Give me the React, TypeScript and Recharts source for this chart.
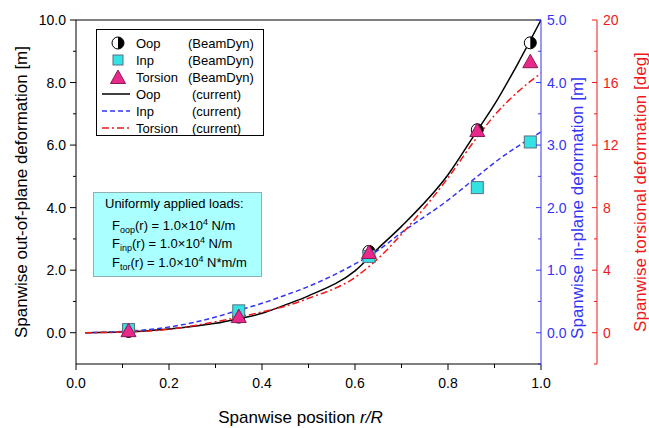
import { ComposedChart, Line, Scatter, XAxis, YAxis, ReferenceLine } from 'recharts'

const FONT = 'Arial, "Liberation Sans", sans-serif'
const BLUE = '#3434f4'
const RED = '#f01818'
const SQ_FILL = '#33e3e3'
const TRI_FILL = '#e8288a'

// BeamDyn reference points
const refR = [0.113, 0.35, 0.63, 0.863, 0.977]
const refOop = [0.04, 0.5, 2.6, 6.49, 9.27]
const refInp = [0.05, 0.35, 1.22, 2.32, 3.05]
const refTor = [0.1, 1.0, 5.1, 12.9, 17.3]

// current model curves
const curR = [0.02, 0.1, 0.2, 0.3, 0.35, 0.4, 0.45, 0.5, 0.6, 0.65, 0.7, 0.8, 0.86, 0.9, 0.95, 1.0]
const curOop = [0, 0.02, 0.12, 0.3, 0.45, 0.62, 0.89, 1.18, 1.98, 2.7, 3.4, 5.05, 6.4, 7.3, 8.6, 10.0]
const curInp = [0, 0.02, 0.09, 0.25, 0.36, 0.47, 0.6, 0.74, 1.1, 1.32, 1.6, 2.12, 2.48, 2.72, 2.98, 3.21]
const curTor = [0, 0.04, 0.22, 0.7, 1.0, 1.33, 1.7, 2.2, 3.54, 4.75, 6.3, 9.9, 12.4, 13.9, 15.4, 16.6]

const xTicks = [0, 0.1, 0.2, 0.3, 0.4, 0.5, 0.6, 0.7, 0.8, 0.9, 1.0]
const oopTicks = [0, 1, 2, 3, 4, 5, 6, 7, 8, 9, 10]
const inpTicks = [-0.5, 0, 0.5, 1, 1.5, 2, 2.5, 3, 3.5, 4, 4.5, 5]
const torTicks = [-2, 0, 2, 4, 6, 8, 10, 12, 14, 16, 18, 20]

const legendNames = ['Oop', 'Inp', 'Torsion', 'Oop', 'Inp', 'Torsion']
const legendSources = ['(BeamDyn)', '(BeamDyn)', '(BeamDyn)', '(current)', '(current)', '(current)']

const curRows = curR.map((r, i) => ({ r, oop: curOop[i], inp: curInp[i], tor: curTor[i] }))
const refRows = refR.map((r, i) => ({ r, oop: refOop[i], inp: refInp[i], tor: refTor[i] }))

const HalfCircle = ({ cx, cy }: any) => (
  <g>
    <circle cx={cx} cy={cy} r={6} fill="#fff" stroke="#000" strokeWidth={1} />
    <path d={`M${cx},${cy - 6} A6,6 0 0 1 ${cx},${cy + 6} Z`} fill="#000" />
  </g>
)

const Square = ({ cx, cy }: any) => (
  <rect x={cx - 6} y={cy - 6} width={12} height={12} fill={SQ_FILL} stroke="#5a6f80" strokeWidth={1} />
)

const Triangle = ({ cx, cy }: any) => (
  <path d={`M${cx},${cy - 8} L${cx + 7.5},${cy + 5.5} L${cx - 7.5},${cy + 5.5} Z`} fill={TRI_FILL} stroke="#8a1a55" strokeWidth={1} />
)

const XTick = ({ x, y, payload }: any) => {
  const v = payload.value
  const major = Math.round(v * 10) % 2 === 0
  return (
    <g>
      <line x1={x} x2={x} y1={y} y2={y + (major ? 6 : 4)} stroke="#000" />
      {major && (
        <text x={x} y={y + 19} textAnchor="middle" dominantBaseline="central" fontSize={14} fontFamily={FONT} fill="#000">
          {v.toFixed(1)}
        </text>
      )}
    </g>
  )
}

const OopTick = ({ x, y, payload }: any) => {
  const v = payload.value
  const major = v % 2 === 0
  return (
    <g>
      <line x1={x - (major ? 6 : 3)} x2={x} y1={y} y2={y} stroke="#000" />
      {major && (
        <text x={x - 10} y={y} textAnchor="end" dominantBaseline="central" fontSize={14} fontFamily={FONT} fill="#000">
          {v.toFixed(1)}
        </text>
      )}
    </g>
  )
}

const InpTick = ({ x, y, payload }: any) => {
  const v = payload.value
  const major = Number.isInteger(v)
  return (
    <g>
      <line x1={x - (major ? 5 : 3)} x2={x} y1={y} y2={y} stroke={BLUE} />
      {major && (
        <text x={x + 6} y={y} textAnchor="start" dominantBaseline="central" fontSize={14} fontFamily={FONT} fill={BLUE}>
          {v.toFixed(1)}
        </text>
      )}
    </g>
  )
}

const TorTick = ({ x, y, payload }: any) => {
  const v = payload.value
  const major = v >= 0 && v % 4 === 0
  return (
    <g>
      <line x1={x - (major ? 5 : 3)} x2={x} y1={y} y2={y} stroke={RED} />
      {major && (
        <text x={x + 6} y={y} textAnchor="start" dominantBaseline="central" fontSize={14} fontFamily={FONT} fill={RED}>
          {v}
        </text>
      )}
    </g>
  )
}

const vTitle = (text: string, color: string, dx: number, dy: number) => (props: any) => {
  const vb = props.viewBox
  const x = vb.x + dx
  const y = vb.y + vb.height / 2 + dy
  return (
    <text x={x} y={y} transform={`rotate(-90 ${x} ${y})`} textAnchor="middle" dominantBaseline="central" fontSize={17} fontFamily={FONT} fill={color}>
      {text}
    </text>
  )
}

const xTitle = (props: any) => {
  const vb = props.viewBox
  return (
    <text x={vb.x + vb.width / 2 - 8} y={vb.y + 59} textAnchor="middle" fontSize={17} fontFamily={FONT} fill="#000">
      Spanwise position <tspan fontStyle="italic">r/R</tspan>
    </text>
  )
}

function LegendBox() {
  const symbol = (i: number) => {
    const cy = 14 + i * 17
    if (i === 0) return <HalfCircle cx={22} cy={cy} />
    if (i === 1) return <rect x={17} y={cy - 5} width={10} height={10} fill={SQ_FILL} stroke="#5a6f80" />
    if (i === 2) return <Triangle cx={22} cy={cy + 1} />
    const stroke = i === 3 ? '#000' : i === 4 ? BLUE : RED
    const dash = i === 3 ? undefined : i === 4 ? '5 3' : '7 3 2 3'
    return <line x1={6} x2={34} y1={cy} y2={cy} stroke={stroke} strokeWidth={1.5} strokeDasharray={dash} />
  }
  return (
    <svg width={168} height={107} style={{ position: 'absolute', left: 96, top: 29 }}>
      <rect x={0.5} y={0.5} width={167} height={106} fill="#fff" stroke="#000" />
      {legendNames.map((name, i) => (
        <g key={i}>
          {symbol(i)}
          <text x={40} y={14 + i * 17} dominantBaseline="central" fontSize={13} fontFamily={FONT} fill="#000">
            {name}
          </text>
          <text x={i < 3 ? 92 : 96} y={14 + i * 17} dominantBaseline="central" fontSize={13} fontFamily={FONT} fill="#000">
            {legendSources[i]}
          </text>
        </g>
      ))}
    </svg>
  )
}

const subStyle = { fontSize: 9, verticalAlign: 'baseline', position: 'relative' as const, top: 3 }
const supStyle = { fontSize: 9, verticalAlign: 'baseline', position: 'relative' as const, top: -5 }

function LoadsBox() {
  const line = { position: 'absolute' as const, left: 18, whiteSpace: 'nowrap' as const }
  return (
    <div
      style={{
        position: 'absolute', left: 93, top: 192, width: 167, height: 83,
        background: '#aaffff', border: '1px solid #8fb0b0', fontFamily: FONT, fontSize: 13, lineHeight: '15px', color: '#000',
      }}
    >
      <div style={{ ...line, left: 11, top: 3 }}>Uniformly applied loads:</div>
      <div style={{ ...line, top: 25 }}>F<span style={subStyle}>oop</span>(r) = 1.0×10<span style={supStyle}>4</span> N/m</div>
      <div style={{ ...line, top: 43 }}>F<span style={subStyle}>inp</span>(r) = 1.0×10<span style={supStyle}>4</span> N/m</div>
      <div style={{ ...line, top: 62 }}>F<span style={subStyle}>tor</span>(r) = 1.0×10<span style={supStyle}>4</span> N*m/m</div>
    </div>
  )
}

export default function App() {
  return (
    <div style={{ position: 'absolute', left: 0, top: 0, width: 649, height: 428, background: '#fff', fontFamily: FONT }}>
      <ComposedChart width={649} height={428} data={curRows} margin={{ top: 20, right: 1, bottom: 0, left: 0 }}>
        <XAxis
          dataKey="r" type="number" domain={[0, 1]} ticks={xTicks} interval={0} allowDataOverflow
          height={64} tickSize={0} tickMargin={0} tick={<XTick />} tickLine={false}
          axisLine={{ stroke: '#000' }} label={xTitle}
        />
        <YAxis
          yAxisId="oop" orientation="left" type="number" domain={[-1, 10]} ticks={oopTicks} interval={0} allowDataOverflow
          width={76} tickSize={0} tickMargin={0} tick={<OopTick />} tickLine={false}
          axisLine={{ stroke: '#000' }} label={vTitle('Spanwise out-of-plane deformation [m]', '#000', 21, 0)}
        />
        <YAxis
          yAxisId="inp" orientation="right" type="number" domain={[-0.5, 5]} ticks={inpTicks} interval={0} allowDataOverflow
          width={56} tickSize={0} tickMargin={0} tick={<InpTick />} tickLine={false}
          axisLine={{ stroke: BLUE }} label={vTitle('Spanwise in-plane deformation [m]', BLUE, 36, 16)}
        />
        <YAxis
          yAxisId="tor" orientation="right" type="number" domain={[-2, 20]} ticks={torTicks} interval={0} allowDataOverflow
          width={51} tickSize={0} tickMargin={0} tick={<TorTick />} tickLine={false}
          axisLine={{ stroke: RED }} label={vTitle('Spanwise torsional deformation [deg]', RED, 43, 0)}
        />
        <ReferenceLine yAxisId="oop" y={10} stroke="#000" />
        <Line yAxisId="oop" dataKey="oop" type="monotone" stroke="#000" strokeWidth={1.5} dot={false} isAnimationActive={false} />
        <Line yAxisId="inp" dataKey="inp" type="monotone" stroke={BLUE} strokeWidth={1.5} strokeDasharray="5 3" dot={false} isAnimationActive={false} />
        <Line yAxisId="tor" dataKey="tor" type="monotone" stroke={RED} strokeWidth={1.5} strokeDasharray="7 3 2 3" dot={false} isAnimationActive={false} />
        <Scatter yAxisId="oop" data={refRows} dataKey="oop" shape={HalfCircle} isAnimationActive={false} />
        <Scatter yAxisId="inp" data={refRows} dataKey="inp" shape={Square} isAnimationActive={false} />
        <Scatter yAxisId="tor" data={refRows} dataKey="tor" shape={Triangle} isAnimationActive={false} />
      </ComposedChart>
      <LegendBox />
      <LoadsBox />
    </div>
  )
}
